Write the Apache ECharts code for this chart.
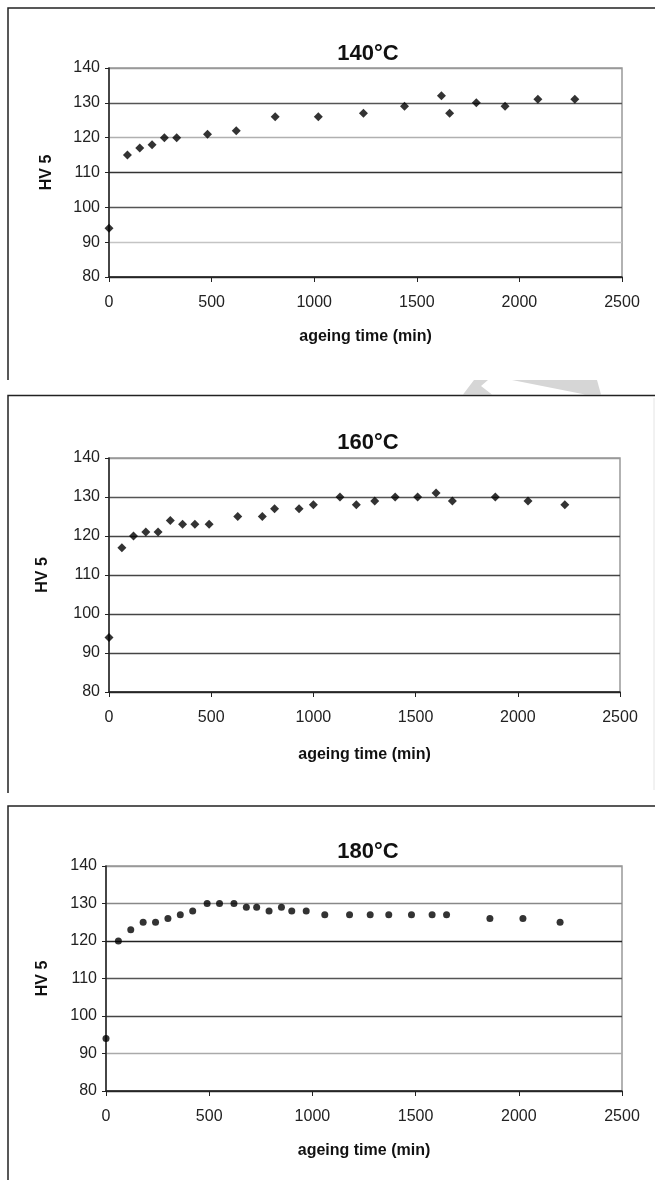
<!DOCTYPE html>
<html>
<head>
<meta charset="utf-8">
<script src="https://cdn.jsdelivr.net/npm/echarts@6/dist/echarts.min.js"></script>
<style>
  html, body { margin: 0; padding: 0; background: #fff; }
  #main { width: 655px; height: 1180px; }
</style>
</head>
<body>
<div id="main"></div>
<script>
// HV 5 hardness vs ageing time, three ageing temperatures
var titles = ['140°C', '160°C', '180°C'];

var time140 = [0, 90, 150, 210, 270, 330, 480, 620, 810, 1020, 1240, 1440, 1620, 1660, 1790, 1930, 2090, 2270];
var hv140   = [94, 115, 117, 118, 120, 120, 121, 122, 126, 126, 127, 129, 132, 127, 130, 129, 131, 131];

var time160 = [0, 63, 120, 180, 240, 300, 360, 420, 490, 630, 750, 810, 930, 1000, 1130, 1210, 1300, 1400, 1510, 1600, 1680, 1890, 2050, 2230];
var hv160   = [94, 117, 120, 121, 121, 124, 123, 123, 123, 125, 125, 127, 127, 128, 130, 128, 129, 130, 130, 131, 129, 130, 129, 128];

var time180 = [0, 60, 120, 180, 240, 300, 360, 420, 490, 550, 620, 680, 730, 790, 850, 900, 970, 1060, 1180, 1280, 1370, 1480, 1580, 1650, 1860, 2020, 2200];
var hv180   = [94, 120, 123, 125, 125, 126, 127, 128, 130, 130, 130, 129, 129, 128, 129, 128, 128, 127, 127, 127, 127, 127, 127, 127, 126, 126, 125];

var xTicks = [0, 500, 1000, 1500, 2000, 2500];
var yTicks = [80, 90, 100, 110, 120, 130, 140];

var chartDom = document.getElementById('main');
var myChart = echarts.init(chartDom, null, { renderer: 'canvas' });

var font = '"Liberation Sans", Arial, sans-serif';

// grid boxes (px) for the three panels
var grids = [
    { left: 109, right: 33, top: 68, height: 209 },
    { left: 109, right: 35, top: 458, height: 234 },
    { left: 106, right: 33, top: 866, height: 225 }
];
// scanned gridline shades, from 80 up to 140
var gridShades = [
    ['#333', '#c4c4c4', '#555', '#333', '#b0b0b0', '#555', '#999'],
    ['#333', '#444', '#444', '#444', '#444', '#555', '#999'],
    ['#333', '#aaa', '#444', '#555', '#222', '#888', '#999']
];
var titleTops = [38, 427, 836];
var xNameGaps = [52, 55, 52];
var yNameGaps = [54, 58, 55];

function pairs(xs, ys) {
    return xs.map(function (x, i) { return [x, ys[i]]; });
}
var seriesData = [pairs(time140, hv140), pairs(time160, hv160), pairs(time180, hv180)];

var option = {
    backgroundColor: '#fff',
    animation: false,
    title: titles.map(function (t, i) {
        return {
            text: t,
            left: 363,
            top: titleTops[i],
            textAlign: 'center',
            textStyle: { fontFamily: font, fontSize: 22, fontWeight: 'bold', color: '#111' }
        };
    }),
    grid: grids.map(function (g) {
        return {
            left: g.left, right: g.right, top: g.top, height: g.height,
            show: true, borderColor: '#999', borderWidth: 1.5, backgroundColor: '#fff'
        };
    }),
    xAxis: grids.map(function (g, i) {
        return {
            type: 'value', gridIndex: i,
            min: xTicks[0], max: xTicks[xTicks.length - 1], interval: 500,
            name: 'ageing time (min)', nameLocation: 'middle', nameGap: xNameGaps[i],
            nameTextStyle: { fontFamily: font, fontSize: 16, fontWeight: 'bold', color: '#111' },
            axisLine: { show: true, lineStyle: { color: '#222', width: 1.5 } },
            axisTick: { show: true, inside: false, length: 5, lineStyle: { color: '#222' } },
            axisLabel: {
                margin: 18, fontFamily: font, fontSize: 16, color: '#222',
                formatter: function (v) { return String(v); }
            },
            splitLine: { show: false }
        };
    }),
    yAxis: grids.map(function (g, i) {
        return {
            type: 'value', gridIndex: i,
            min: yTicks[0], max: yTicks[yTicks.length - 1], interval: 10,
            name: 'HV 5', nameLocation: 'middle', nameGap: yNameGaps[i],
            nameTextStyle: { fontFamily: font, fontSize: 16, fontWeight: 'bold', color: '#111' },
            axisLine: { show: true, lineStyle: { color: '#222', width: 1.5 } },
            axisTick: { show: true, inside: false, length: 4, lineStyle: { color: '#222' } },
            axisLabel: { margin: 9, fontFamily: font, fontSize: 16, color: '#222' },
            splitLine: { show: true, lineStyle: { color: gridShades[i], width: 1.3 } }
        };
    }),
    series: seriesData.map(function (d, i) {
        return {
            type: 'scatter', xAxisIndex: i, yAxisIndex: i,
            data: d,
            symbol: i === 2 ? 'circle' : 'diamond',
            symbolSize: i === 2 ? 7 : 9,
            itemStyle: { color: '#000' }
        };
    }),
    graphic: [
        // panel frames (scanned page borders)
        { type: 'polyline', shape: { points: [[8, 380], [8, 8], [655, 8]] }, style: { stroke: '#222', lineWidth: 1.5, fill: null } },
        { type: 'polyline', shape: { points: [[8, 793], [8, 395.5], [655, 395.5]] }, style: { stroke: '#222', lineWidth: 1.5, fill: null } },
        { type: 'polyline', shape: { points: [[8, 1180], [8, 806], [655, 806]] }, style: { stroke: '#222', lineWidth: 1.5, fill: null } },
        { type: 'line', shape: { x1: 654, y1: 398, x2: 654, y2: 790 }, style: { stroke: '#e4e4e4', lineWidth: 1 } },
        // faint watermark fragment
        { type: 'polygon', shape: { points: [[474, 380], [488, 380], [481, 386], [492, 394.5], [463, 394.5]] }, style: { fill: '#d6d6d6' }, z: -1 },
        { type: 'polygon', shape: { points: [[512, 380], [597, 380], [601, 394.5], [585, 394.5]] }, style: { fill: '#d6d6d6' }, z: -1 }
    ]
};

option && myChart.setOption(option);
</script>
</body>
</html>
